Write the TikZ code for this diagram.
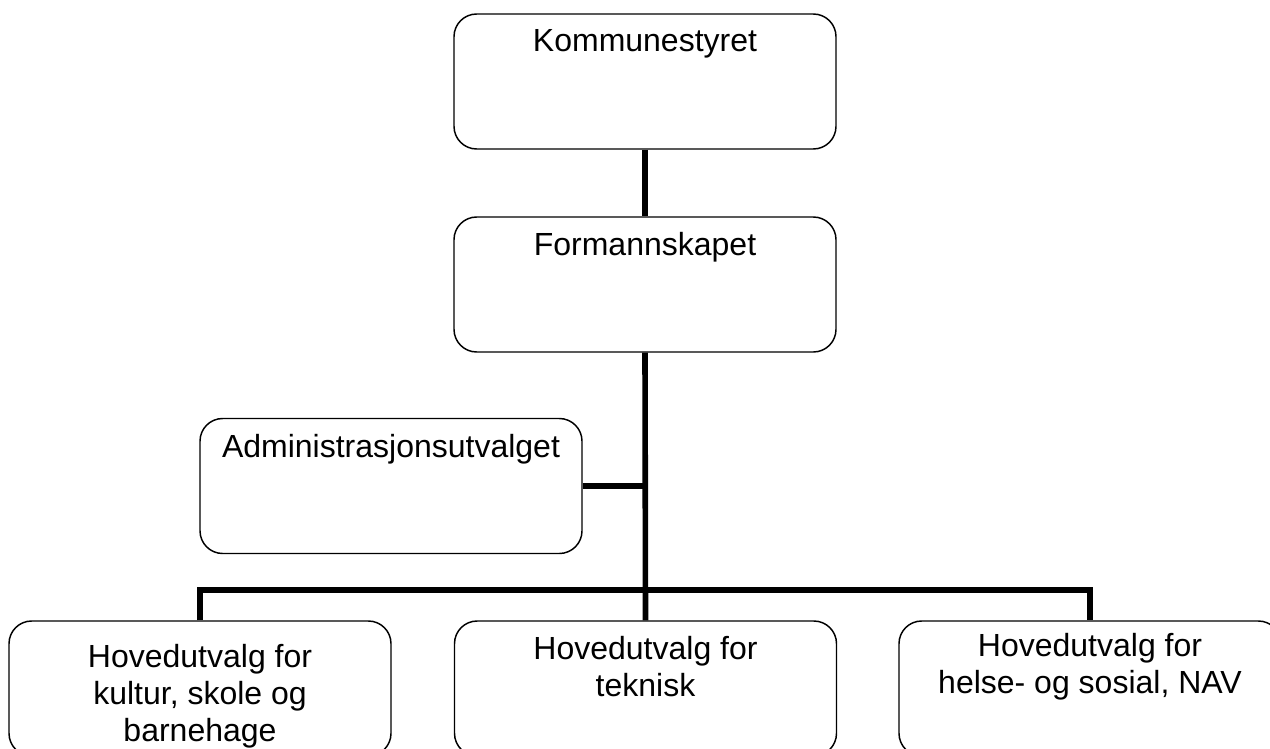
\documentclass[tikz,border=0pt]{standalone}
\usepackage{fontspec}
\setmainfont{Liberation Sans}
\begin{document}
\begin{tikzpicture}[x=0.75pt,y=-0.75pt,
  orgbox/.style={draw=black, line width=1.1pt, rounded corners=17pt, fill=white,
    minimum width=286.5pt, minimum height=101.25pt, inner sep=0pt},
  lbl/.style={font=\fontsize{24}{28}\selectfont, inner sep=0pt, align=center},
  conn/.style={line width=4.2pt, black}]
\useasboundingbox (0,0) rectangle (1270,749);
\clip (0,0) rectangle (1270,749);
\fill[white] (0,0) rectangle (1270,749);
% boxes
\node[orgbox] (k) at (645,81.5) {};
\node[orgbox] (f) at (645,284.5) {};
\node[orgbox] (a) at (391,486) {};
\node[orgbox] (b1) at (200,688.5) {};
\node[orgbox] (b2) at (645.5,688.5) {};
\node[orgbox] (b3) at (1090,688.5) {};
% texts
\node[lbl, anchor=base] (kt) at (645,52) {Kommunestyret};
\node[lbl, anchor=base] (ft) at (645,255) {Formannskapet};
\node[lbl, anchor=base] (at) at (391,457) {Administrasjonsutvalget};
\node[lbl, anchor=north] (b1t) at (200,643.7) {Hovedutvalg for\\kultur, skole og\\barnehage};
\node[lbl, anchor=north] (b2t) at (645.5,635.7) {Hovedutvalg for\\teknisk};
\node[lbl, anchor=north] (b3t) at (1090,632.7) {Hovedutvalg for\\helse- og sosial, NAV};
% connectors
\coordinate (bus) at (645,590);
\draw[conn] (k.south) -- (f.north);
\draw[conn] (f.south) -- (b2.north);
\draw[conn] (a.east) -- (a.east -| f.south);
\draw[conn] (b1.north) |- (bus) -| (b3.north);
\end{tikzpicture}
\end{document}
